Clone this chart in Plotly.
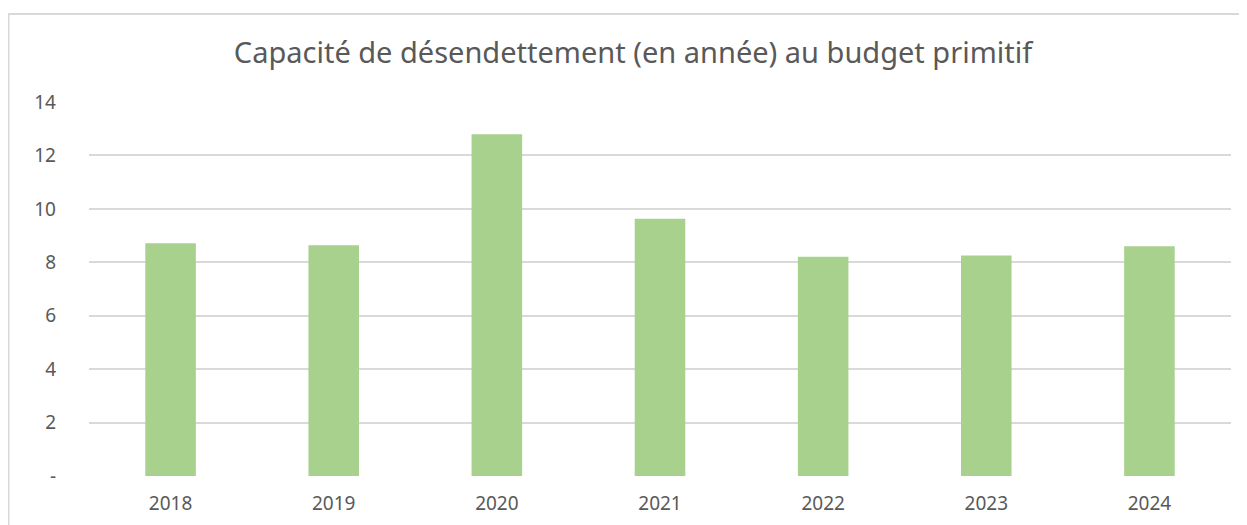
import plotly.graph_objects as go

years = ["2018", "2019", "2020", "2021", "2022", "2023", "2024"]
values = [8.71, 8.64, 12.79, 9.63, 8.21, 8.25, 8.60]
y_tickvals = [0, 2, 4, 6, 8, 10, 12, 14]
y_ticktext = ["-", "2", "4", "6", "8", "10", "12", "14"]
title_text = "Capacité de désendettement (en année) au budget primitif"

# page has an 8px body margin; figure extends to the window's right/bottom edges
OFF = 8
W, H = 1247 - OFF, 525 - OFF
L, R, T, B = 89 - OFF, 1247 - 1231, 102 - OFF, 525 - 476
pw, ph = W - L - R, H - T - B

def px_x(page_px):
    return (page_px - OFF - L) / pw

def px_y(page_py):
    return (H - B - (page_py - OFF)) / ph

fig = go.Figure()
fig.add_trace(go.Bar(
    x=years, y=values,
    marker=dict(color="#a9d18e", line=dict(width=0)),
))

fig.update_layout(
    width=W, height=H,
    margin=dict(l=L, r=R, t=T, b=B, autoexpand=False),
    paper_bgcolor="white", plot_bgcolor="white",
    bargap=0.69,
    showlegend=False,
    font=dict(family="Noto Sans", color="#595959"),
    title=dict(text=title_text, x=px_x(633), xref="paper", xanchor="center",
               y=1 - (53 - OFF) / H, yanchor="middle",
               font=dict(size=29, color="#595959", family="Noto Sans")),
    xaxis=dict(type="category", showgrid=False, zeroline=False, showline=False,
               ticks="", ticklabelstandoff=14, automargin=False,
               tickfont=dict(size=19, color="#595959")),
    yaxis=dict(range=[0, 14], tickvals=y_tickvals, ticktext=y_ticktext,
               showgrid=True, gridcolor="#d9d9d9", gridwidth=1.5,
               zeroline=False, showline=False, ticks="", ticklabelstandoff=32,
               automargin=False,
               tickfont=dict(size=19, color="#595959")),
    shapes=[
        dict(type="line", xref="paper", yref="paper",
             x0=px_x(8), x1=px_x(1260), y0=px_y(14), y1=px_y(14),
             line=dict(color="#d9d9d9", width=2)),
        dict(type="line", xref="paper", yref="paper",
             x0=px_x(8.5), x1=px_x(8.5), y0=px_y(14), y1=px_y(540),
             line=dict(color="#d9d9d9", width=2)),
    ],
)

fig.write_html("out.html")
